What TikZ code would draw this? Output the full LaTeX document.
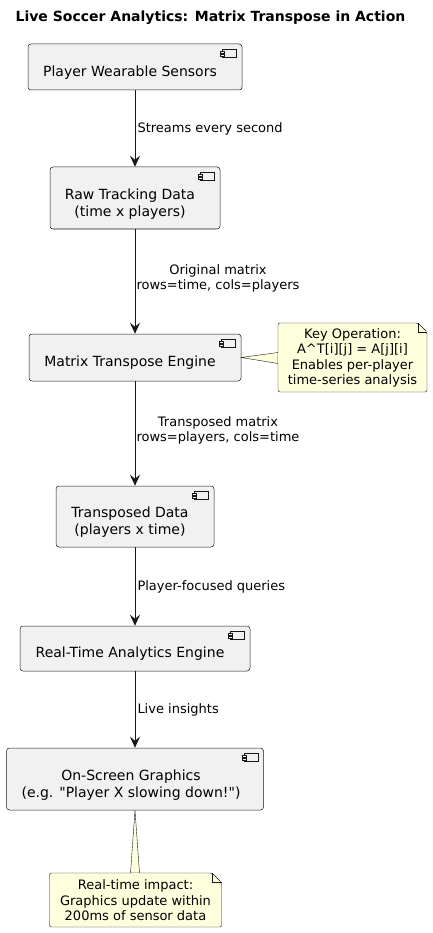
\documentclass[tikz,border=0pt]{standalone}
\usepackage{fontspec}
\setmainfont{DejaVu Sans}
\newfontfamily\plainfont{DejaVu Sans}
\usetikzlibrary{arrows.meta}
\definecolor{compfill}{HTML}{F1F1F1}
\definecolor{lineclr}{HTML}{181818}
\definecolor{notefill}{HTML}{FEFFDD}
\tikzset{
  comp/.style={draw=lineclr, line width=0.5pt, fill=compfill, rounded corners=3pt, inner sep=0pt},
  ctext/.style={font=\fontsize{14}{17}\selectfont, align=center, inner sep=0pt},
  ltext/.style={font=\fontsize{13}{15.5}\selectfont, align=center, inner sep=0pt},
  ntext/.style={font=\fontsize{13}{15.5}\selectfont, align=center, inner sep=0pt},
  flow/.style={draw=lineclr, line width=1pt, -{Stealth[length=11pt, width=10pt, inset=4pt]}},
  noteshape/.style={draw=lineclr, line width=0.4pt, fill=notefill},
  compicon/.pic={
    \draw[lineclr, line width=0.4pt, fill=compfill] (-20,5) rectangle (-6,13);
    \draw[lineclr, line width=0.4pt, fill=compfill] (-22,7) rectangle (-18,9);
    \draw[lineclr, line width=0.4pt, fill=compfill] (-22,10) rectangle (-18,12);
  }
}
\begin{document}
\begin{tikzpicture}[x=1pt,y=-1pt]
\useasboundingbox (0,0) rectangle (433,933);
\fill[white] (0,0) rectangle (433,933);
% title
\node[font=\bfseries\fontsize{14}{17}\selectfont, inner sep=0pt] (title) at (210.5,18) {Live Soccer Analytics: Matrix Transpose in Action};

% components
\node[comp, minimum width=214pt, minimum height=46pt] (n1) at (135,67) {};
\pic at (n1.north east) {compicon};
\node[ctext] (t1) at (130,73) {Player Wearable Sensors};

\node[comp, minimum width=170pt, minimum height=62pt] (n2) at (135,198) {};
\pic at (n2.north east) {compicon};
\node[ctext] (t2) at (130,204) {Raw Tracking Data\\(time x players)};

\node[comp, minimum width=212pt, minimum height=47pt] (n3) at (135,357.5) {};
\pic at (n3.north east) {compicon};
\node[ctext] (t3) at (130,363) {Matrix Transpose Engine};

\node[comp, minimum width=158pt, minimum height=61pt] (n4) at (135,516.5) {};
\pic at (n4.north east) {compicon};
\node[ctext] (t4) at (130,522) {Transposed Data\\(players x time)};

\node[comp, minimum width=230pt, minimum height=45pt] (n5) at (135,648.5) {};
\pic at (n5.north east) {compicon};
\node[ctext] (t5) at (130,654) {Real-Time Analytics Engine};

\node[comp, minimum width=257pt, minimum height=62pt] (n6) at (135,779) {};
\pic at (n6.north east) {compicon};
\node[ctext, font=\plainfont\fontsize{14}{17}\selectfont] (t6) at (131,785) {On-Screen Graphics\\(e.g. "Player X slowing down!")};

% flows
\draw[flow] (n1.south) -- (n2.north) node[ltext, midway, anchor=west, xshift=2pt] (l1) {Streams every second};
\draw[flow] (n2.south) -- (n3.north) node[ltext, pos=0.47, anchor=west, xshift=1pt] (l2) {Original matrix\\rows=time, cols=players};
\draw[flow] (n3.south) -- (n4.north) node[ltext, pos=0.47, anchor=west, xshift=1pt] (l3) {Transposed matrix\\rows=players, cols=time};
\draw[flow] (n4.south) -- (n5.north) node[ltext, midway, anchor=west, xshift=2pt] (l4) {Player-focused queries};
\draw[flow] (n5.south) -- (n6.north) node[ltext, midway, anchor=west, xshift=2pt] (l5) {Live insights};

% note 1
\coordinate (a1) at (n3.east);
\draw[noteshape] (a1) -- (278,352.5) -- (278,363.5) -- cycle;
\draw[noteshape, rounded corners=2pt] (278,323) -- (418,323) -- (427,332) -- (427,392) -- (278,392) -- cycle;
\draw[lineclr, line width=0.4pt] (418,323) -- (418,332) -- (427,332);
\fill[notefill] (278.3,353) rectangle (279,363);
\node[ntext] (note1) at (352.5,358) {Key Operation:\\A\textasciicircum T[i][j] = A[j][i]\\Enables per-player\\time-series analysis};

% note 2
\coordinate (a2) at (n6.south);
\draw[noteshape] (a2) -- (130.5,873) -- (139.5,873) -- cycle;
\draw[noteshape, rounded corners=2pt] (49.5,873) -- (212,873) -- (221.5,882.5) -- (221.5,927) -- (49.5,927) -- cycle;
\draw[lineclr, line width=0.4pt] (212,873) -- (212,882.5) -- (221.5,882.5);
\fill[notefill] (131,873.3) rectangle (139,874);
\node[ntext] (note2) at (135.5,900.5) {Real-time impact:\\Graphics update within\\200ms of sensor data};
\end{tikzpicture}
\end{document}
